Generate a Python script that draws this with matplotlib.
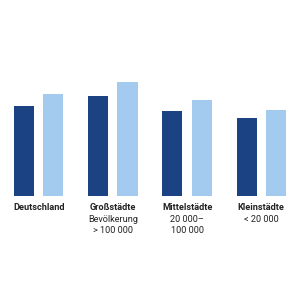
import matplotlib.pyplot as plt
import numpy as np

categories = ['Deutschland', 'Großstädte', 'Mittelstädte', 'Kleinstädte']
subtitles = ['', 'Bevölkerung\n> 100 000', '20 000–\n100 000', '< 20 000']
series_dark = [90, 100, 85, 78]
series_light = [102, 114, 96, 86]

plt.rcParams['font.family'] = ['Liberation Sans Narrow', 'Roboto', 'DejaVu Sans']

fig = plt.figure(figsize=(3, 3), dpi=100)
ax = fig.add_axes([0, 0.3457, 1, 0.4543])

x = np.arange(len(categories))
w = 0.27
ax.bar(x - 0.197, series_dark, width=w, color='#1b4283')
ax.bar(x + 0.197, series_light, width=w, color='#a3cbef')

ax.set_xlim(-0.5216, 3.522)
ax.set_ylim(0, 136.3)
ax.axis('off')

for i, (cat, sub) in enumerate(zip(categories, subtitles)):
    ax.annotate(cat, (i, 0), xytext=(0, -5), textcoords='offset points',
                ha='center', va='top', fontsize=6.6, fontweight='bold', color='#222222')
    if sub:
        ax.annotate(sub, (i, 0), xytext=(0, -13.2), textcoords='offset points',
                    ha='center', va='top', fontsize=6.6, color='#222222',
                    linespacing=1.32)

fig.savefig('out.png', dpi=100)
